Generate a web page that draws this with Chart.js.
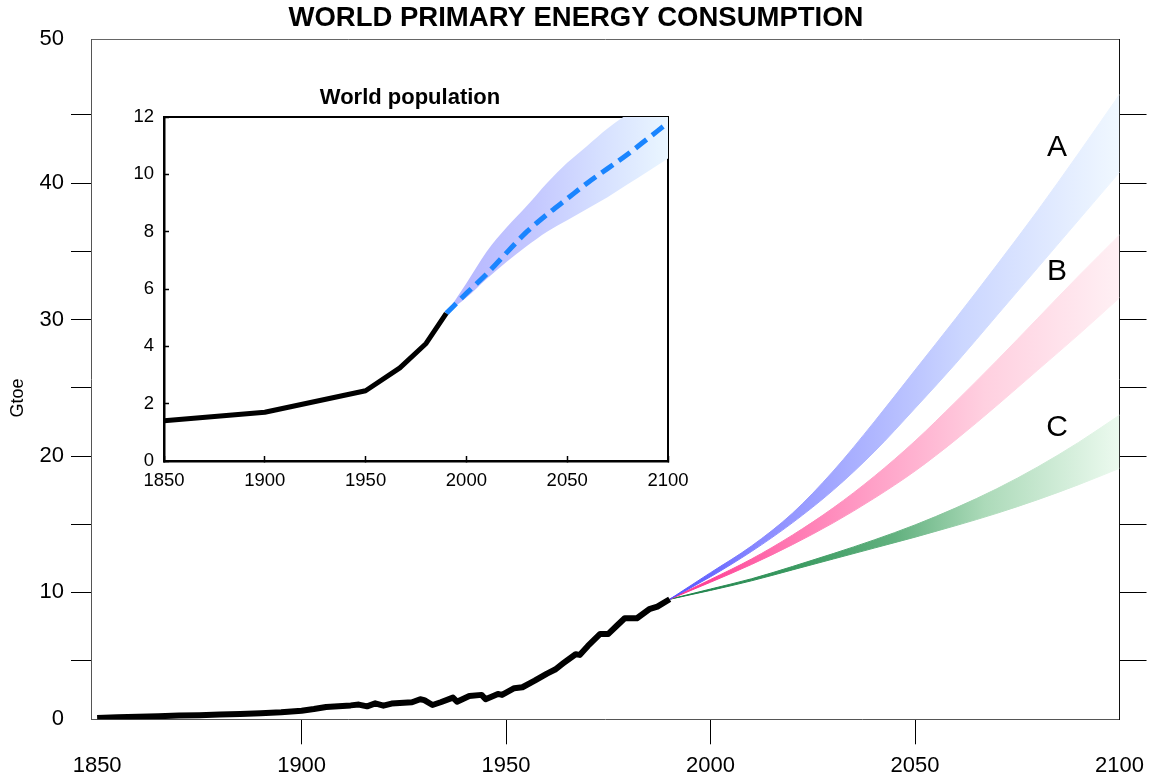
<!DOCTYPE html>
<html><head><meta charset="utf-8">
<script src="https://cdn.jsdelivr.net/npm/chart.js@4.4.1/dist/chart.umd.min.js"></script>
<style>
html,body{margin:0;padding:0;background:#fff;}
#wrap{position:relative;width:1152px;height:778px;overflow:hidden;}
#main{position:absolute;left:0;top:0;width:1152px;height:778px;}
#inset{position:absolute;left:105px;top:80px;width:610px;height:420px;}
</style></head><body>
<div id="wrap">
<canvas id="main" width="1152" height="778"></canvas>
<canvas id="inset" width="610" height="420"></canvas>
</div>
<script>
const FONT = "'Liberation Sans', Arial, Helvetica, sans-serif";

// ---------- main chart data (Gtoe) ----------
const histYears  = [1850,1855,1860,1865,1870,1875,1880,1885,1890,1895,1900,1903,1906,1909,1912,1914,1916,1918,1920,1922,1925,1927,1929,1930,1932,1934,1937,1938,1941,1944,1945,1948,1949,1952,1954,1957,1960,1962,1964,1967,1968,1970,1973,1975,1977,1979,1982,1985,1987,1990];
const histEnergy = [0.80,0.85,0.88,0.93,0.97,1.00,1.05,1.09,1.14,1.21,1.33,1.45,1.60,1.66,1.72,1.78,1.65,1.87,1.70,1.85,1.92,1.95,2.17,2.10,1.75,1.95,2.29,1.99,2.41,2.49,2.17,2.56,2.49,2.98,3.05,3.53,4.05,4.35,4.81,5.47,5.42,6.08,6.96,6.96,7.54,8.11,8.11,8.77,8.96,9.50];

const projYears = [1990,2000,2010,2020,2030,2040,2050,2060,2070,2080,2090,2100];
const scenAHigh = [9.5,11.45,13.4,15.8,18.9,22.5,26.3,30.1,34.0,38.0,42.2,46.5];
const scenALow  = [9.5,11.15,13.0,15.1,17.5,20.3,23.5,26.8,30.3,33.8,37.3,40.8];
const scenBHigh = [9.5,10.95,12.45,14.2,16.2,18.5,21.1,24.0,27.0,30.1,33.2,36.2];
const scenBLow  = [9.5,10.75,12.05,13.5,15.1,16.9,18.9,21.2,23.7,26.3,28.9,31.6];
const scenCHigh = [9.5,10.25,11.0,11.9,12.85,13.85,14.95,16.2,17.6,19.2,21.0,23.0];
const scenCLow  = [9.5,10.15,10.85,11.65,12.45,13.25,14.05,14.9,15.8,16.8,17.9,19.1];

const scenLabels = ['A','B','C'];
const scenLabelYear = 2084.7;
const scenLabelValues = [42.6,33.5,22.06];

const xTickValues = [1850,1900,1950,2000,2050,2100];
const yTickValues = [5,10,15,20,25,30,35,40,45];
const yLabelValues = [10,20,30,40];
const yEndLabels = ['0','50'];
const Y_MIN = 0.7, Y_MAX = 50.57, X_MIN = 1848.5, X_MAX = 2100;

// ---------- inset data (billions) ----------
const popYears  = [1850,1900,1950,1967,1980,1990];
const popValues = [1.4,1.7,2.45,3.25,4.1,5.15];
const popProjYears = [1990,2000,2010,2020,2030,2040,2050,2060,2070,2080,2090,2100];
const popProjMid  = [5.15,5.85,6.52,7.27,8.0,8.6,9.15,9.7,10.2,10.7,11.25,11.8];
const popProjHigh = [5.15,6.2,7.3,8.15,8.9,9.7,10.4,11.0,11.6,12.1,12.5,12.9];
const popProjLow  = [5.15,5.7,6.35,6.95,7.5,8.0,8.4,8.8,9.2,9.65,10.1,10.55];
const insetXTicks = [1850,1900,1950,2000,2050,2100];
const insetYTicks = [0,2,4,6,8,10,12];

const pts = (xs, ys) => xs.map((x, i) => ({x: x, y: ys[i]}));

function hGrad(chart, stops) {
  const xs = chart.scales && chart.scales.x;
  if (!chart.chartArea || !xs) return stops[0][1];
  const g = chart.ctx.createLinearGradient(xs.getPixelForValue(1990), 0, xs.getPixelForValue(2100), 0);
  stops.forEach(s => g.addColorStop(s[0], s[1]));
  return g;
}
function band(high, low, stops) {
  const col = ctx => hGrad(ctx.chart, stops);
  const common = {pointRadius: 0, borderWidth: 1, borderColor: col, backgroundColor: col, cubicInterpolationMode: 'monotone'};
  return [
    Object.assign({data: pts(projYears, high), fill: '+1'}, common),
    Object.assign({data: pts(projYears, low), fill: false}, common)
  ];
}

const stopsA = [[0,'#5050ff'],[0.2,'#8a8aff'],[0.4,'#a8aeff'],[0.65,'#cbd6ff'],[1,'#f0f8ff']];
const stopsB = [[0,'#ff2a8a'],[0.25,'#ff74b0'],[0.45,'#ffa0c7'],[0.7,'#ffd0e0'],[1,'#fff0f4']];
const stopsC = [[0,'#1a7f48'],[0.3,'#3d9c63'],[0.5,'#62b17f'],[0.7,'#acdab9'],[1,'#ecfaef']];

const annot = {
  id: 'annot',
  afterDatasetsDraw(chart) {
    const ctx = chart.ctx, x = chart.scales.x, y = chart.scales.y;
    ctx.save();
    ctx.fillStyle = '#000';
    ctx.textAlign = 'center';
    ctx.textBaseline = 'middle';
    ctx.font = '30px ' + FONT;
    scenLabels.forEach((t, i) => ctx.fillText(t, x.getPixelForValue(scenLabelYear), y.getPixelForValue(scenLabelValues[i])));
    ctx.translate(18, 398);
    ctx.rotate(-Math.PI / 2);
    ctx.font = '18px ' + FONT;
    ctx.fillText('Gtoe', 0, 0);
    ctx.restore();
  }
};

const hideAt = (vals) => (ctx => (ctx.tick && vals.includes(ctx.tick.value)) ? 'rgba(0,0,0,0)' : '#000');

new Chart(document.getElementById('main'), {
  type: 'line',
  data: {
    datasets: [
      {data: pts(histYears, histEnergy), borderColor: '#000', borderWidth: 6, pointRadius: 0, fill: false, tension: 0, borderJoinStyle: 'round'},
      ...band(scenAHigh, scenALow, stopsA),
      ...band(scenBHigh, scenBLow, stopsB),
      ...band(scenCHigh, scenCLow, stopsC)
    ]
  },
  options: {
    responsive: false, animation: false, events: [],
    layout: {padding: 0},
    plugins: {
      legend: {display: false}, tooltip: {enabled: false},
      title: {display: true, text: 'WORLD PRIMARY ENERGY CONSUMPTION', color: '#000',
        font: {family: FONT, size: 27.5, weight: 'bold'}, padding: {top: 2, bottom: 4}}
    },
    scales: {
      x: {type: 'linear', position: 'bottom', min: X_MIN, max: X_MAX,
        afterBuildTicks: s => { s.ticks = xTickValues.map(v => ({value: v})); },
        afterFit: s => { s.height = 58.7; },
        ticks: {font: {family: FONT, size: 22}, color: '#000', padding: 8, maxRotation: 0, autoSkip: false, callback: v => String(v)},
        grid: {drawOnChartArea: false, tickLength: 25, tickWidth: 1, tickColor: hideAt([1850, 2100])},
        border: {display: true, color: '#555', width: 1}},
      xTop: {type: 'linear', position: 'top', min: X_MIN, max: X_MAX,
        afterFit: s => { s.height = 0; },
        ticks: {display: false}, grid: {display: false},
        border: {display: true, color: '#666', width: 1}},
      y: {type: 'linear', position: 'left', min: Y_MIN, max: Y_MAX,
        afterBuildTicks: s => { s.ticks = [Y_MIN, ...yTickValues, Y_MAX].map(v => ({value: v})); },
        afterFit: s => { s.width = 91; },
        ticks: {font: {family: FONT, size: 22}, color: '#000', padding: 7, autoSkip: false,
          callback: v => v === Y_MIN ? yEndLabels[0] : (v === Y_MAX ? yEndLabels[1] : (yLabelValues.includes(v) ? String(v) : ''))},
        grid: {drawOnChartArea: false, tickLength: 20, tickWidth: 1, tickColor: hideAt([Y_MIN, Y_MAX])},
        border: {display: true, color: '#555', width: 1}},
      yRight: {type: 'linear', position: 'right', min: Y_MIN, max: Y_MAX,
        afterBuildTicks: s => { s.ticks = yTickValues.map(v => ({value: v})); },
        afterFit: s => { s.width = 31.3; },
        ticks: {callback: () => ''},
        grid: {drawOnChartArea: false, tickLength: 27, tickWidth: 1, tickColor: '#000'},
        border: {display: true, color: '#111', width: 1}}
    }
  },
  plugins: [annot]
});

// ---------- inset ----------
const insetStops = [[0,'#b4b4ff'],[0.4,'#c4c8ff'],[0.7,'#d6e0ff'],[1,'#eaf6ff']];
const insetCol = ctx => hGrad(ctx.chart, insetStops);

new Chart(document.getElementById('inset'), {
  type: 'line',
  data: {
    datasets: [
      {data: pts(popYears, popValues), borderColor: '#000', borderWidth: 5, pointRadius: 0, fill: false, tension: 0, borderJoinStyle: 'round'},
      {data: pts(popProjYears, popProjMid), borderColor: '#1a85ff', borderWidth: 5, borderDash: [14, 7], pointRadius: 0, fill: false, cubicInterpolationMode: 'monotone'},
      {data: pts(popProjYears, popProjHigh), borderWidth: 0, pointRadius: 0, fill: '+1', backgroundColor: insetCol, borderColor: insetCol, cubicInterpolationMode: 'monotone'},
      {data: pts(popProjYears, popProjLow), borderWidth: 0, pointRadius: 0, fill: false, backgroundColor: insetCol, borderColor: insetCol, cubicInterpolationMode: 'monotone'}
    ]
  },
  options: {
    responsive: false, animation: false, events: [],
    layout: {padding: 0},
    plugins: {
      legend: {display: false}, tooltip: {enabled: false},
      title: {display: true, text: 'World population', color: '#000',
        font: {family: FONT, size: 22, weight: 'bold'}, padding: {top: 5, bottom: 5.6}}
    },
    scales: {
      x: {type: 'linear', position: 'bottom', min: 1850, max: 2100,
        afterBuildTicks: s => { s.ticks = insetXTicks.map(v => ({value: v})); },
        afterFit: s => { s.height = 39; },
        ticks: {font: {family: FONT, size: 18.5}, color: '#000', padding: 14, maxRotation: 0, autoSkip: false, callback: v => String(v)},
        grid: {drawOnChartArea: false, tickLength: -5, tickWidth: 1.5, tickColor: '#000'},
        border: {display: true, color: '#000', width: 2.5}},
      xTop: {type: 'linear', position: 'top', min: 1850, max: 2100,
        afterFit: s => { s.height = 0; },
        ticks: {display: false}, grid: {display: false},
        border: {display: true, color: '#000', width: 2}},
      y: {type: 'linear', position: 'left', min: 0, max: 12,
        afterBuildTicks: s => { s.ticks = insetYTicks.map(v => ({value: v})); },
        afterFit: s => { s.width = 59; },
        ticks: {font: {family: FONT, size: 18.5}, color: '#000', padding: 15, autoSkip: false, callback: v => String(v)},
        grid: {drawOnChartArea: false, tickLength: -5, tickWidth: 1.5, tickColor: '#000'},
        border: {display: true, color: '#000', width: 2.5}},
      yRight: {type: 'linear', position: 'right', min: 0, max: 12,
        afterFit: s => { s.width = 47; },
        ticks: {display: false}, grid: {display: false},
        border: {display: true, color: '#000', width: 2}}
    }
  }
});
</script>
</body></html>
